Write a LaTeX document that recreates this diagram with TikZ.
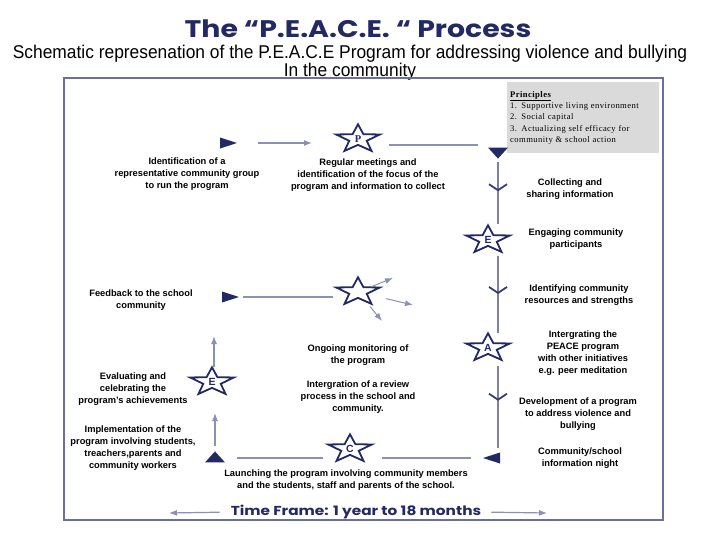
\documentclass[tikz,border=0pt]{standalone}
\usepackage{fontspec}
\usepackage{graphicx}
\setsansfont{Liberation Sans}
\newfontfamily\titlefont[FakeStretch=1.18]{Poppins}
\newfontfamily\subfont[FakeStretch=0.94]{Liberation Sans}
\newfontfamily\princfont[LetterSpace=5]{Liberation Serif}
\usetikzlibrary{shapes.geometric,arrows.meta,decorations.markings}
\definecolor{navy}{HTML}{232A63}
\definecolor{linegray}{HTML}{8C90B4}
\definecolor{framec}{HTML}{6B6F9C}
\definecolor{boxgray}{HTML}{DADADA}
\newcommand{\starlbl}[1]{\scalebox{1}[1.55]{#1}}

\begin{document}
\begin{tikzpicture}[x=1pt,y=-1pt,
  txt/.style={font=\sffamily\bfseries\fontsize{9.3}{12}\selectfont, align=center, inner sep=0pt},
  pstar/.style={shape=star, star points=5, star point ratio=2.5, draw=navy, line width=1.8pt,
    fill=white, minimum size=46pt, inner sep=0pt, yscale=0.64, text=navy,
    font=\sffamily\bfseries\fontsize{10.5}{10.5}\selectfont},
  tri/.style={shape=isosceles triangle, isosceles triangle stretches, fill=navy, inner sep=0pt},
  trih/.style={tri, minimum width=11pt, minimum height=17pt},
  triv/.style={tri, minimum width=20pt, minimum height=11pt},
  conn/.style={draw=linegray, line width=1.2pt},
  tip/.style={-{Latex[length=8pt,width=6pt]}},
  vline/.style={draw=linegray!90!black, line width=2pt},
  chev/.style={decoration={markings, mark=at position 0.5 with
    {\arrow[navy!80!linegray]{Straight Barb[length=6pt,width=18pt,line width=1.8pt]}}}, postaction=decorate}
]
\fill[white] (0,0) rectangle (720,541);
\useasboundingbox (0,0) rectangle (720,541);

% titles
\node[font=\titlefont\bfseries\fontsize{24}{24}\selectfont, text=navy, anchor=base, inner sep=0pt] (title) at (358,37) {The “P.E.A.C.E. “ Process};
\node[font=\subfont\fontsize{18.5}{17}\selectfont, anchor=north, align=center, inner sep=0pt] (subtitle) at (350,45)
  {Schematic represenation of the P.E.A.C.E Program for addressing violence and bullying\\In the community};

% frame
\draw[draw=framec, line width=1.8pt] (64,78) rectangle (663,520);

% principles
\node[fill=boxgray, anchor=north west, minimum width=152pt, minimum height=71pt, text width=146pt,
  inner xsep=3pt, inner ysep=3pt, align=left, font=\princfont\fontsize{8.6}{11.3}\selectfont] (principles) at (507,82)
  {\textbf{\underline{Principles}}\\1. Supportive living environment\\2. Social capital\\3. Actualizing self efficacy for\\community \& school action};

% markers
\node[trih, shape border rotate=0] (triR1) at (224,143) {};
\node[pstar] (starP) at (358,139) {\starlbl{\princfont\bfseries P}};
\node[triv, shape border rotate=-90] (triD) at (498,152) {};
\node[pstar] (starE) at (488,240) {\starlbl{E}};
\node[pstar] (starA) at (488,348) {\starlbl{A}};
\node[trih, shape border rotate=180] (triL) at (496,458) {};
\node[pstar] (starC) at (350,449) {\starlbl{C}};
\node[triv, shape border rotate=90] (triU) at (215,458) {};
\node[pstar] (starEl) at (212,382) {\starlbl{E}};
\node[trih, shape border rotate=0] (triR2) at (226,297) {};
\node[pstar] (mstar) at (358,292) {};
\coordinate (topend) at (478,145);
\coordinate (upend) at (214,336);
\coordinate (mon1) at (393,278);
\coordinate (mon2) at (413,305);
\coordinate (mon3) at (382,321);
\coordinate (tfl) at (169,513);
\coordinate (tfr) at (547,513);

% texts
\node[txt] (identify) at (187,174) {Identification of a\\representative community group\\to run the program};
\node[txt] (meetings) at (368,175) {Regular meetings and\\identification of the focus of the\\program and information to collect};
\node[txt] (collect) at (570,189) {Collecting and\\sharing information};
\node[txt] (engage) at (576,239) {Engaging community\\participants};
\node[txt] (resources) at (579,295) {Identifying community\\resources and strengths};
\node[txt] (integrate) at (583,353) {Intergrating the\\PEACE program\\with other initiatives\\e.g. peer meditation};
\node[txt] (develop) at (578,414) {Development of a program\\to address violence and\\bullying};
\node[txt] (infonight) at (580,458) {Community/school\\information night};
\node[txt] (launch) at (346,480) {Launching the program involving community members\\and the students, staff and parents of the school.};
\node[txt] (implement) at (133,448) {Implementation of the\\program involving students,\\treachers,parents and\\community workers};
\node[txt] (evaluate) at (133,389) {Evaluating and\\celebrating the\\program’s achievements};
\node[txt] (feedback) at (141,300) {Feedback to the school\\community};
\node[txt] (monitor) at (358,355) {Ongoing monitoring of\\the program};
\node[txt] (review) at (358,397) {Intergration of a review\\process in the school and\\community.};
\node[font=\titlefont\bfseries\fontsize{13}{13}\selectfont, text=navy, inner sep=0pt] (tframe) at (356,512) {Time Frame: 1 year to 18 months};

% connectors
\draw[conn, tip, shorten <=34pt, shorten >=46pt] (triR1.center) -- (triR1.center -| starP.center);
\draw[conn, shorten <=31pt] (starP.center |- topend) -- (topend);
\draw[vline, chev, shorten <=3pt] (triD.south) -- (triD.south |- starE.north);
\draw[vline, chev, shorten <=16pt, shorten >=15pt] (triD.south |- starE.center) -- (triD.south |- starA.center);
\draw[vline, chev, shorten <=18pt, shorten >=6pt] (triD.south |- starA.center) -- (triD.south |- triL.north);
\draw[conn, shorten <=25pt, shorten >=32pt] (triL.center) -- (triL.center -| starC.center);
\draw[conn, shorten <=27pt, shorten >=22pt] (starC.center |- triU.center) -- (triU.center);
\draw[conn, tip, shorten <=5pt, shorten >=31pt] (triU.north) -- (triU.north |- starEl.center);
\draw[conn, tip, shorten <=15pt] (upend |- starEl.center) -- (upend);
\draw[conn, shorten <=17pt, shorten >=25pt] (triR2.center) -- (triR2.center -| mstar.center);
\draw[conn, tip, line width=1pt, shorten <=14pt] (mstar.center) -- (mon1);
\draw[conn, tip, line width=1pt, shorten <=29pt] (mstar.center) -- (mon2);
\draw[conn, tip, line width=1pt, shorten <=19pt] (mstar.center) -- (mon3);
\draw[conn, tip, shorten <=11pt] (tframe.west) -- (tfl);
\draw[conn, tip, shorten <=10pt] (tframe.east) -- (tfr);
\end{tikzpicture}
\end{document}
